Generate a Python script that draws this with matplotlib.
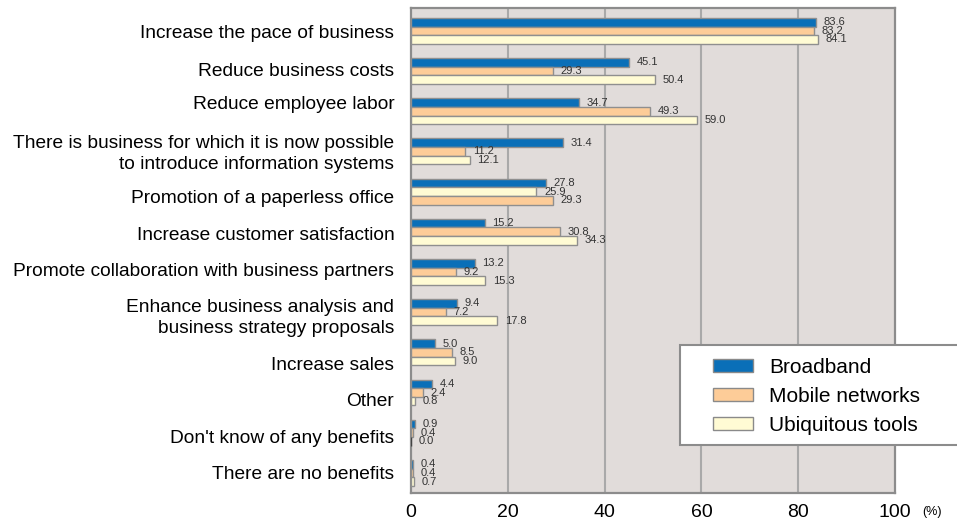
import matplotlib.pyplot as plt
import matplotlib.transforms as mtransforms
import numpy as np
from matplotlib.patches import Patch, Rectangle

plt.rcParams['font.family'] = ['Liberation Sans', 'DejaVu Sans']

categories = [
	'Increase the pace of business',
	'Reduce business costs',
	'Reduce employee labor',
	'There is business for which it is now possible\nto introduce information systems',
	'Promotion of a paperless office',
	'Increase customer satisfaction',
	'Promote collaboration with business partners',
	'Enhance business analysis and\nbusiness strategy proposals',
	'Increase sales',
	'Other',
	"Don't know of any benefits",
	'There are no benefits',
]
broadband = [83.6, 45.1, 34.7, 31.4, 27.8, 15.2, 13.2, 9.4, 5.0, 4.4, 0.9, 0.4]
mobile = [83.2, 29.3, 49.3, 11.2, 25.9, 30.8, 9.2, 7.2, 8.5, 2.4, 0.4, 0.4]
ubiquitous = [84.1, 50.4, 59.0, 12.1, 29.3, 34.3, 15.3, 17.8, 9.0, 0.8, 0.0, 0.7]
series_names = ['Broadband', 'Mobile networks', 'Ubiquitous tools']
xticks = [0, 20, 40, 60, 80, 100]

# the source's category labels are not quite centred on their groups (pixels, + is down)
label_nudge = [1, -2, -9, -1, 5, 2, -2, 2, 11, 7, 4, 0]

blue = '#0a6fb8'
orange = '#fdcc98'
yellow = '#fffbd4'
colors = [blue, orange, yellow]

fig = plt.figure(figsize=(9.57, 5.2), dpi=100)
ax = fig.add_axes([0.4295, 0.052, 0.5057, 0.9327])
ax.set_facecolor('#e1dcda')

y = np.arange(len(categories))
h = 0.215
offsets = [-h, 0, h]
for k, vals in enumerate([broadband, mobile, ubiquitous]):
	cols = [colors[k]] * len(vals)
	# the paperless office group has the orange / yellow fills swapped in the source
	if k == 1:
		cols[4] = yellow
	if k == 2:
		cols[4] = orange
	edge = ['#444444' if v == 0 else '#8f8f8f' for v in vals]
	ax.barh(y + offsets[k], vals, height=h, color=cols, edgecolor=edge,
		linewidth=1.0, zorder=3)
	for yi, v in zip(y, vals):
		ax.annotate('%.1f' % v, (v, yi + offsets[k]), xytext=(5.5, 0),
			textcoords='offset points', va='center', ha='left',
			fontsize=8, color='#333333', zorder=4)

ax.set_xlim(0, 100)
ax.set_ylim(11.5, -0.57)
ax.set_xticks(xticks)
ax.set_xticklabels([str(t) for t in xticks], fontsize=14)
ax.tick_params(axis='x', length=0, pad=8)
ax.set_yticks(y)
ax.set_yticklabels(categories, fontsize=13.8, linespacing=1.3)
ax.tick_params(axis='y', length=0, pad=12)
for lab, dy in zip(ax.get_yticklabels(), label_nudge):
	shift = mtransforms.ScaledTranslation(0, -dy / 100, fig.dpi_scale_trans)
	lab.set_transform(lab.get_transform() + shift)

for gx in xticks[1:-1]:
	ax.axvline(gx, color='#a9a9a9', linewidth=1.5, zorder=1)
for s in ax.spines.values():
	s.set_color('#8c8c8c')
	s.set_linewidth(1.6)

fig.text(0.974, 0.004, '(%)', fontsize=9, ha='center', va='bottom')

# legend box runs off the right edge of the figure in the source
box = Rectangle((680 / 957, 1 - 445 / 520), 0.32, 100 / 520, transform=fig.transFigure,
	facecolor='white', edgecolor='#8c8c8c', linewidth=1.5, zorder=5)
fig.patches.append(box)
handles = [Patch(facecolor=c, edgecolor='#8a8a8a', label=n) for c, n in zip(colors, series_names)]
leg = fig.legend(handles=handles, loc='upper left', bbox_to_anchor=(713 / 957, 1 - 358 / 520),
	fontsize=15, frameon=False, handlelength=1.9, handleheight=0.55,
	handletextpad=0.8, borderpad=0, labelspacing=0.48, borderaxespad=0)
leg.set_zorder(6)

fig.savefig('out.png', dpi=100)
